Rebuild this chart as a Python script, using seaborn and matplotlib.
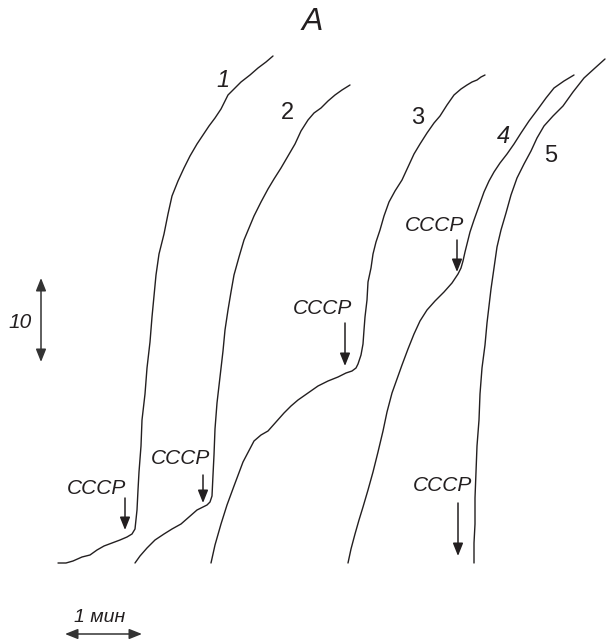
import seaborn as sns
import matplotlib.pyplot as plt
import pandas as pd

# traces (x = time, y = signal, plotted on an inverted axis)
t1 = [58, 66, 73, 82, 90, 97, 104, 112, 120, 127, 132, 135, 137, 138, 139, 141, 142, 145, 147, 150,
      152, 154, 156, 159, 164, 168, 172, 178, 184, 190, 197, 203, 209, 215, 221, 228, 234, 241, 250, 258, 266, 273]
v1 = [563, 563, 561, 557, 555, 550, 546, 543, 540, 537, 534, 529, 510, 490, 472, 446, 420, 394, 368, 342,
      317, 296, 275, 254, 234, 214, 196, 181, 168, 156, 144, 135, 126, 118, 109, 95, 89, 82, 75, 68, 62, 56]

t2 = [135, 140, 147, 155, 164, 172, 181, 189, 197, 203, 207, 210, 212, 213, 214, 215, 217, 220, 223, 225,
      228, 231, 234, 239, 244, 249, 254, 261, 268, 274, 281, 288, 295, 301, 308, 314, 321, 328, 335, 342, 350]
v2 = [563, 556, 548, 540, 534, 529, 524, 517, 510, 507, 505, 502, 496, 475, 455, 429, 403, 377, 351, 330,
      310, 292, 275, 257, 240, 228, 216, 202, 189, 179, 168, 156, 144, 131, 120, 113, 108, 101, 95, 90, 85]

t3 = [211, 215, 221, 227, 234, 243, 254, 261, 268, 276, 284, 291, 298, 308, 318, 328, 338, 346, 352, 356,
      358, 361, 363, 364, 365, 367, 368, 371, 373, 376, 380, 384, 389, 395, 402, 408, 414, 420, 427, 434,
      440, 447, 454, 461, 467, 472, 477, 481, 485]
v3 = [563, 545, 524, 505, 486, 462, 441, 435, 431, 422, 413, 406, 400, 393, 386, 381, 377, 373, 371, 368,
      364, 355, 344, 330, 317, 300, 282, 268, 254, 242, 230, 216, 202, 191, 180, 167, 154, 144, 133, 123,
      116, 105, 95, 89, 85, 82, 80, 77, 75]

t4 = [348, 351, 355, 359, 363, 368, 373, 378, 383, 387, 392, 397, 402, 408, 414, 420, 427, 435, 444, 452,
      458, 461, 463, 465, 467, 470, 474, 479, 484, 489, 494, 500, 507, 514, 521, 529, 538, 546, 554, 564, 574]
v4 = [563, 549, 534, 520, 507, 490, 472, 452, 431, 412, 393, 379, 365, 349, 334, 321, 310, 301, 292, 283,
      274, 268, 261, 252, 244, 232, 220, 206, 192, 181, 172, 163, 154, 144, 133, 121, 109, 98, 88, 81, 75]

t5 = [474, 474, 475, 475, 476, 477, 479, 480, 482, 485, 487, 489, 491, 494, 497, 501, 506, 511, 517, 524,
      531, 537, 544, 553, 563, 573, 584, 595, 605]
v5 = [563, 543, 524, 498, 472, 446, 420, 394, 368, 345, 323, 306, 289, 268, 247, 230, 213, 195, 178, 164,
      151, 138, 126, 116, 106, 92, 78, 68, 59]

curve_labels = ["1", "2", "3", "4", "5"]
label_pos = [(223, 80), (287, 113), (418, 118), (503, 136), (551, 156)]
label_italic = [True, False, False, True, False]

# CCCP additions: text position, arrow start, arrow tip
cccp_text = [(96, 488), (180, 458), (322, 308), (434, 225), (442, 485)]
cccp_from = [(125, 498), (203, 475), (345, 323), (457, 240), (458, 503)]
cccp_to = [(125, 530), (203, 503), (345, 366), (457, 272), (458, 556)]

traces = [(t1, v1), (t2, v2), (t3, v3), (t4, v4), (t5, v5)]
df = pd.concat([pd.DataFrame({"t": t, "v": v, "trace": lab})
                for (t, v), lab in zip(traces, curve_labels)], ignore_index=True)

sns.set_style("white")
plt.rcParams['font.family'] = ['Liberation Sans', 'DejaVu Sans']

ink = "#231f20"
fig = plt.figure(figsize=(6.09, 6.44), dpi=100)
ax = fig.add_axes([0, 0, 1, 1])

sns.lineplot(data=df, x="t", y="v", units="trace", estimator=None, sort=False,
             color=ink, linewidth=1.0, ax=ax)

ax.set_xlim(0, 609)
ax.set_ylim(644, 0)
ax.axis("off")

# curve numbers
for lab, (x, y), it in zip(curve_labels, label_pos, label_italic):
    ax.text(x, y, lab, fontsize=17, style="italic" if it else "normal",
            ha="center", va="center", color=ink)

arrow = dict(arrowstyle="-|>,head_length=0.55,head_width=0.22", color=ink,
             lw=1.1, shrinkA=0, shrinkB=0, mutation_scale=14)
for (tx, ty), a0, a1 in zip(cccp_text, cccp_from, cccp_to):
    ax.text(tx, ty, "CCCP", fontsize=15, style="italic", ha="center", va="center", color=ink)
    ax.annotate("", xy=a1, xytext=a0, arrowprops=arrow)

# scale bars
dbl = dict(arrow, arrowstyle="<|-|>,head_length=0.55,head_width=0.22", color="#333333")
ax.annotate("", xy=(41, 278), xytext=(41, 362), arrowprops=dbl)
ax.text(20, 322, "10", fontsize=15, style="italic", ha="center", va="center", color=ink)
ax.annotate("", xy=(65, 634), xytext=(142, 634), arrowprops=dbl)
ax.text(100, 617, "1 мин", fontsize=14, style="italic", ha="center", va="center", color=ink)

ax.text(312, 22, "A", fontsize=23, style="italic", ha="center", va="center", color=ink)

fig.savefig("out.png", dpi=100)
